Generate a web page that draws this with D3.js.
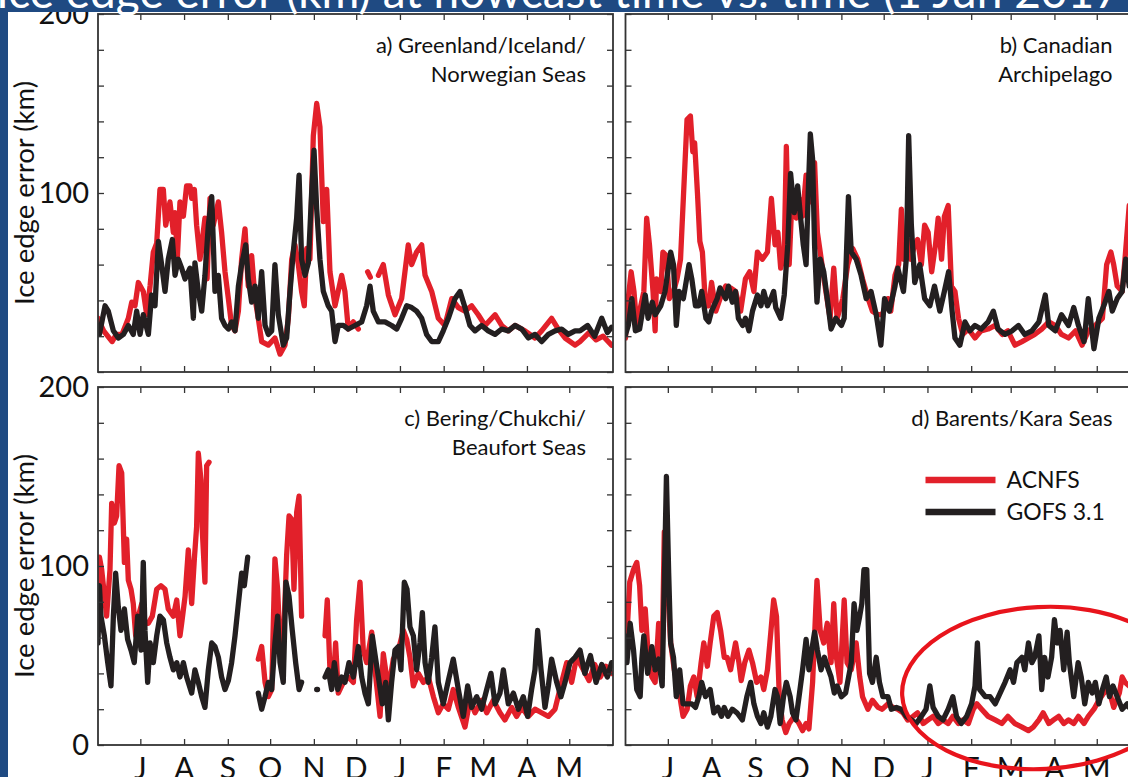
<!DOCTYPE html>
<html><head><meta charset="utf-8">
<script src="https://cdn.jsdelivr.net/npm/d3@7"></script>
<style>html,body{margin:0;padding:0;background:#fff;overflow:hidden}</style>
</head><body><svg id="c" width="1128" height="777"></svg>
<script>
// ---------- data ----------
const monthLabels = ["J","A","S","O","N","D","J","F","M","A","M"];
const yTickLabelsTop = [100, 200];
const yTickLabelsBottom = [0, 100, 200];
const seriesNames = ["ACNFS", "GOFS 3.1"];
const panelTitles = [
  ["a) Greenland/Iceland/", "Norwegian Seas"],
  ["b) Canadian", "Archipelago"],
  ["c) Bering/Chukchi/", "Beaufort Seas"],
  ["d) Barents/Kara Seas"]
];
const yLabel = "Ice edge error (km)";
const titleText = "Ice edge error (km) at nowcast time vs. time (1 Jun 2017 – 31 May 2018)";

// [day since 1 Jun, km]  (null = no data)
const ginAcnfs = [[0,30],[1,28],[4,23],[10,17],[13,21],[17,21],[21.5,30],[23.9,39],[26.2,37],[28.6,50],[32.1,45],[34.5,32],[36.9,48],[39.2,67],[41.6,72],[43.9,102],[46.3,102],[48,82],[51,95],[53.4,78],[54.6,89],[56.2,63],[58.1,95],[60.5,87],[62.8,104],[65.2,104],[66.4,97],[68.3,102],[69.9,82],[72.3,63],[75.8,86],[77.3,52],[79.4,97],[81.7,82],[85.3,95],[87.6,78],[90,56],[92.4,41],[94.7,26],[97.1,23],[99.5,34],[101.8,63],[104.2,80],[106.5,48],[108.9,65],[111.3,41],[113.6,30],[116,17],[120.7,15],[125.4,19],[129,10],[132.5,15],[134.9,30],[137.3,63],[139.6,71],[142,60],[144.3,45],[146.2,37],[147.9,69],[150.2,63],[152.6,132],[155,150],[157.3,137],[159.7,84],[162.1,102],[164.4,56],[168,37],[172.7,54],[175,45],[177.4,24],[181,28],[184.5,24],[186,null],[191.1,56],[193,53],[194,null],[198.7,54],[202.2,60],[205.8,43],[210.5,32],[215.2,41],[219.9,71],[222.3,60],[225.8,67],[229.4,71],[231.8,54],[236.5,45],[241.2,30],[245.9,26],[250.7,41],[255.4,36],[260.1,34],[264.8,37],[269.5,32],[274.3,26],[281.4,32],[286.1,26],[290.8,23],[295.5,26],[302.6,23],[309.7,19],[314.4,23],[321.5,30],[326.2,24],[331,19],[338.1,15],[341.6,17],[348,22],[353,18],[358,20],[364,15]];
const ginGofs = [[0,26],[1,21],[5,37],[7.3,34],[10.9,23],[14.4,19],[18,21],[21.5,26],[25,21],[27.4,34],[29.8,21],[32.1,32],[35.7,21],[38,43],[40.4,37],[42.8,73],[45.1,60],[47.5,45],[49.8,63],[52.7,74],[54.6,54],[56.9,63],[59.3,58],[61.7,52],[65.2,58],[67.6,30],[68.7,61],[71.1,45],[73.5,34],[75.8,54],[78.2,82],[80.6,98],[82.9,45],[85.3,54],[87.6,30],[90,26],[92.4,24],[94.7,28],[97.1,23],[99.5,48],[101.8,60],[104.7,71],[106.5,52],[108.9,39],[111.3,48],[113.6,30],[116,56],[118.4,26],[120.7,21],[123.1,23],[125.4,60],[127.8,32],[131.3,15],[133.7,19],[136.1,45],[138.4,67],[140.8,86],[142.5,110],[144.3,63],[146.7,54],[149.1,61],[151.4,100],[153.1,124],[155,91],[157.3,63],[159.7,45],[163.2,37],[165.6,34],[168,17],[170.3,26],[173.9,26],[177.4,24],[182.1,26],[186.9,28],[190.4,37],[192.8,48],[195.1,34],[198.7,28],[203.4,28],[208.1,26],[211.7,24],[215.2,30],[218.8,37],[222.3,36],[225.8,34],[229.4,30],[232.9,21],[236.5,17],[241.2,17],[244.7,23],[248.3,30],[253,41],[256.6,45],[260.1,36],[263.6,26],[267.2,23],[271.9,26],[276.6,23],[281.4,21],[286.1,24],[290.8,23],[295.5,26],[300.3,24],[305,19],[309.7,21],[314.4,17],[319.2,21],[323.9,23],[328.6,24],[333.3,21],[338.1,23],[341.6,23],[347,26],[352,20],[357,30],[361,22],[364,25]];

const canAcnfs = [[0,19],[1,34],[4,56],[6,45],[8,26],[10,34],[13,45],[15,86],[17,71],[19.5,45],[21,23],[22,52],[25,45],[26.5,67],[29,65],[31,41],[34,45],[36.5,52],[39,63],[41,97],[43.6,141],[46,143],[47.7,123],[49,128],[51,100],[52.7,73],[54.5,67],[56.7,37],[59,37],[61,50],[64,34],[67,41],[71,48],[74.5,47],[78,45],[81.6,34],[85,52],[88,56],[91,45],[93.5,67],[97,63],[100.6,67],[103.4,97],[106,71],[108,78],[110,58],[112.5,67],[114,126],[116,60],[118,97],[121,86],[123,97],[125.5,87],[128,110],[131,95],[134,117],[136,78],[140,56],[142,45],[145,30],[147.6,58],[150,30],[154,41],[157.5,60],[161,69],[164.6,63],[168,52],[172,41],[175,34],[179,32],[182,32],[186,41],[188,34],[191,54],[193.6,60],[195.5,91],[197,63],[200,74],[202,63],[205,71],[207,74],[209.7,60],[212,82],[214.5,78],[217,56],[219.7,71],[221.6,86],[224,63],[226,87],[228.7,93],[231,48],[233.5,45],[236,30],[239,21],[243,24],[247.7,19],[252,23],[257,24],[262,26],[267,21],[271,23],[276,15],[281,17],[285.6,19],[290,21],[295,24],[300,28],[304.6,26],[309,21],[314,19],[319,23],[323.6,15],[328,23],[333,26],[338,30],[341,60],[344,67],[346,60],[348.5,48],[352,45],[354,63],[357,93],[361,80],[364,70]];
const canGofs = [[0,21],[2,26],[4.5,41],[7,23],[10,24],[14,43],[16,30],[19,39],[21,32],[25,37],[28,45],[32,67],[34,60],[36,26],[38,45],[41,41],[45,60],[47,52],[49.6,37],[52,37],[54,45],[57,30],[59,28],[61,34],[65,41],[67,47],[71,41],[73,48],[75.7,39],[78,45],[80,30],[83,26],[85,30],[87.5,23],[90,34],[93.5,43],[96,37],[98,45],[100.6,37],[103,41],[105,45],[106.5,36],[110,30],[112.5,43],[115,71],[117,111],[119.6,89],[122,104],[124,87],[126,71],[128,60],[129.5,100],[131,133],[132.6,119],[134,71],[135.7,39],[138,63],[140.5,56],[143,41],[145.7,24],[149,30],[153,26],[155,30],[158,98],[160,67],[163.5,63],[167,54],[170.6,41],[174,45],[177.7,32],[181,15],[183.6,41],[187,34],[191,48],[193,58],[197,45],[199,63],[200.7,132],[202.6,82],[205,50],[208.5,60],[212,41],[215.7,37],[219,48],[222.8,34],[226,45],[229,56],[231.5,34],[233.5,19],[237,15],[240.6,28],[244,23],[247.7,26],[252,24],[257,28],[260.7,34],[264,24],[269,21],[274,23],[278.5,26],[283,21],[288,23],[293,28],[297.5,43],[300,26],[304.6,23],[309,32],[314,26],[317.7,36],[321,26],[325,17],[328,41],[332,13],[335.5,30],[339,37],[342.6,45],[345,34],[348.5,41],[352,45],[354.5,63],[357,48],[361,50],[364,45]];

const bcbAcnfs = [[0,68],[1,105],[2.6,98],[6.1,72],[8.5,98],[9.7,135],[11.6,124],[13.2,128],[14.9,156],[16.8,152],[18.7,102],[20.3,115],[21.5,92],[23.4,87],[25,79],[26.7,61],[28.6,72],[31,79],[33.3,68],[35.7,68],[38.5,72],[41.6,87],[44.6,89],[47.5,87],[49.8,76],[53.4,72],[55.8,81],[58.1,61],[59.3,68],[61.7,83],[64,109],[66.4,79],[68.3,104],[69.9,122],[71.1,163],[73,148],[73.9,120],[75.8,91],[77,156],[78.7,158],[80,null],[113.6,48],[116,55],[118.4,35],[120.7,27],[123.1,31],[125.4,104],[127.3,87],[129,57],[130.9,46],[133.7,106],[135.4,128],[137.3,126],[138.9,87],[140.8,130],[142.5,139],[144.3,72],[145,null],[160.9,61],[162.5,81],[164.4,42],[166.8,35],[168.4,57],[170.3,29],[173.9,35],[177.4,38],[181,35],[183.3,70],[185.7,91],[188,53],[190.4,46],[194,63],[196.3,42],[199.9,16],[202.2,51],[205.8,31],[209.3,48],[212.9,53],[216.4,64],[218.8,59],[221.1,49],[223.5,33],[227,40],[230.6,35],[234.1,38],[237.7,27],[241.2,18],[244.7,23],[248.3,20],[251.8,31],[255.4,21],[260.1,10],[263.6,25],[267.2,18],[271.9,25],[275.5,18],[280.2,25],[284.9,18],[288.4,14],[293.2,21],[296.7,16],[300.3,21],[305,16],[309.7,20],[314.4,18],[319.2,16],[323.9,20],[328.6,35],[332.2,46],[335.7,35],[339.2,49],[344,42],[348,36],[352,45],[356,38],[360,44],[364,40]];
const bcbGofs = [[0,57],[1,89],[2.1,72],[4.5,61],[6.9,46],[9.2,33],[10.9,72],[12.5,96],[14.4,77],[16.3,64],[18.7,76],[21,59],[23.4,53],[25.7,46],[28.1,72],[30.5,53],[32.1,102],[33.3,64],[35.2,35],[36.9,57],[39.2,46],[41.6,61],[43.9,72],[46.3,70],[48.7,57],[51,49],[53.4,42],[55.8,46],[58.1,38],[60.5,46],[62.8,38],[66.4,29],[68.7,42],[71.1,35],[73.5,27],[75.8,21],[78.2,42],[80.6,57],[82.9,55],[85.3,49],[87.6,38],[90,31],[92.4,36],[94.7,46],[97.1,61],[99.5,79],[101.8,96],[103.7,89],[106.1,105],[108,null],[113.6,29],[116,20],[118.4,27],[120.7,35],[123.1,31],[125.4,57],[127.3,72],[129,46],[131.3,35],[133.2,91],[135.4,83],[137.7,64],[140.1,46],[142.5,31],[144.3,35],[146,null],[155,31],[155.6,31],[156,null],[160.9,38],[163.2,42],[165.6,31],[167.5,46],[169.9,31],[172.7,38],[175,35],[177.9,46],[181,38],[184.5,55],[186.9,38],[189.2,29],[191.6,23],[194.4,61],[196.8,48],[199.1,36],[201.5,23],[203.9,35],[205.8,14],[208.1,35],[210.5,53],[212.9,55],[214.7,42],[217.1,91],[219,87],[221.1,66],[223.5,61],[225.8,42],[228.2,57],[229.9,74],[231.8,46],[234.1,35],[236.5,49],[238.8,66],[241.2,35],[244.7,23],[248.3,36],[251.8,48],[255.4,31],[258.9,16],[262,33],[264.8,21],[268.4,27],[271.9,20],[275.5,31],[278.5,40],[281.4,23],[284.9,29],[287.3,42],[290.8,23],[294.4,29],[297.9,20],[301.4,27],[304.5,16],[307.3,31],[309.7,42],[311.6,64],[314,42],[316.8,21],[319.2,33],[321.5,48],[325.1,35],[328.1,27],[331,35],[334.5,46],[338.1,49],[341.6,53],[345,40],[349,50],[353,35],[357,45],[361,38],[364,46]];

const bkAcnfs = [[0,66],[1,61],[3,91],[5.7,98],[8,102],[10,89],[11.6,64],[14,76],[16.4,46],[18.7,38],[21,35],[23.5,68],[26,49],[27.5,119],[29.4,96],[32,57],[34.6,42],[37.7,31],[40.8,16],[43.7,20],[46,33],[48.4,38],[50.8,27],[53.6,46],[55.5,57],[58,44],[60,57],[62.6,72],[65,74],[67.4,64],[70,49],[72,49],[74.5,42],[78,57],[80.4,46],[82,36],[84.5,46],[87.5,53],[90,46],[93,35],[96,38],[98,31],[100.6,42],[103,63],[105,81],[107,72],[109,27],[111,14],[113.6,7],[116,12],[119.6,16],[123,12],[125.5,8],[128,12],[130,9],[132.6,35],[135.7,92],[138,64],[140.5,57],[143,68],[145.7,46],[147.6,79],[149.5,49],[152,35],[155,81],[157,46],[160,42],[163.5,57],[166,38],[168,27],[171.8,20],[175,25],[179,21],[182,20],[186,23],[189.6,21],[193,20],[196.7,18],[200,14],[203.8,16],[207,18],[211,12],[214.5,14],[218,16],[221.6,12],[225,14],[228.7,12],[232,16],[236,12],[239,14],[243,12],[246.5,20],[249,23],[252.4,20],[257,16],[262,14],[266.7,12],[271,16],[276,12],[281,10],[285.6,8],[289,10],[293,14],[296,18],[300,12],[303.4,14],[307,16],[310.6,12],[314,14],[317.7,12],[321,16],[325,12],[328,16],[332,20],[335.5,25],[339,29],[342.6,31],[346,21],[350,29],[352,38],[354,35],[357,33],[361,30],[364,32]];
const bkGofs = [[0,61],[1,46],[3.3,68],[5.7,53],[8,31],[10.4,27],[11.6,48],[13,61],[15.7,40],[18.7,55],[21,42],[23.5,48],[26,33],[27.5,91],[29,150],[30.6,96],[32,57],[34,49],[36,27],[38.4,42],[40.8,23],[43.6,23],[47,23],[49.6,21],[52,27],[54,35],[56.7,27],[60,31],[62.6,18],[65.5,21],[68,16],[70,21],[72.6,16],[75.7,20],[79,18],[82.8,14],[86,27],[88.7,35],[91,23],[93.5,16],[96,12],[98,18],[100.6,10],[103,16],[106,31],[107.7,27],[109.6,12],[112,27],[114,35],[116.7,27],[118.4,18],[120.8,14],[123,27],[125.5,42],[128,59],[130,42],[132,53],[134,63],[136,53],[138.6,42],[141,49],[143,44],[145.7,38],[148,29],[150,33],[153,27],[156,29],[160,46],[162,79],[164,64],[166,72],[167.5,79],[169,98],[171,98],[173,40],[175,35],[177.7,49],[180,35],[182.4,27],[186,27],[188.4,20],[192,21],[195.5,20],[199,16],[202.6,14],[206,12],[209.7,16],[213,20],[215.7,33],[218,21],[221.6,16],[225,14],[228.7,20],[232,27],[234.6,16],[238,12],[241.8,16],[245.3,23],[247.7,33],[249.4,57],[251,31],[255,27],[258.4,27],[262,23],[265.5,29],[269,35],[272.6,42],[275,35],[277.4,46],[281,49],[283,42],[285.6,57],[288,46],[290,49],[293,61],[295,31],[297,49],[299.4,38],[302,49],[304,70],[306,57],[308,64],[310.6,42],[313,63],[314.6,46],[317.7,27],[320.8,46],[323,38],[325.5,23],[328,35],[330.8,29],[333,35],[335.5,23],[338,31],[340.7,38],[343,27],[345.5,33],[348.5,27],[352,20],[355.6,23],[357,21],[361,22],[364,20]];

// ---------- drawing ----------
const RED = "#e2202a", BLACK = "#231f20", BLUE = "#1f4a82";
const FONT = "Lato, 'Open Sans', sans-serif";
const svg = d3.select("#c");
const W = 515, H = 358;
const start = new Date(Date.UTC(2017, 5, 1));
const end = new Date(Date.UTC(2018, 5, 1));
const dateOf = d => new Date(start.getTime() + d * 864e5);
const monthTicks = d3.utcMonth.range(new Date(Date.UTC(2017, 6, 1)), end);

svg.append("rect").attr("width", 1128).attr("height", 777).attr("fill", "#fff");

const panels = [
  {x0: 98, y0: 14, series: [ginAcnfs, ginGofs], title: panelTitles[0], ylabels: yTickLabelsTop, yaxisTitle: true, months: false},
  {x0: 625.5, y0: 14, series: [canAcnfs, canGofs], title: panelTitles[1], ylabels: [], yaxisTitle: false, months: false},
  {x0: 98, y0: 387, series: [bcbAcnfs, bcbGofs], title: panelTitles[2], ylabels: yTickLabelsBottom, yaxisTitle: true, months: true},
  {x0: 625.5, y0: 387, series: [bkAcnfs, bkGofs], title: panelTitles[3], ylabels: [], yaxisTitle: false, months: true, legend: true}
];

panels.forEach((p, i) => {
  const x = d3.scaleUtc().domain([start, end]).range([0, W]);
  const y = d3.scaleLinear().domain([0, 200]).range([H, 0]);
  const g = svg.append("g").attr("transform", `translate(${p.x0},${p.y0})`);
  const cid = "clip" + i;
  g.append("clipPath").attr("id", cid).append("rect").attr("width", W).attr("height", H);

  // lines
  const line = d3.line().defined(d => d[1] != null)
    .x(d => x(dateOf(d[0]))).y(d => y(d[1]));
  const cols = [RED, BLACK];
  p.series.forEach((s, k) => {
    g.append("path").datum(s).attr("clip-path", `url(#${cid})`)
      .attr("d", line).attr("fill", "none").attr("stroke", cols[k])
      .attr("stroke-width", 5.3).attr("stroke-linejoin", "round").attr("stroke-linecap", "round");
  });

  // axes with inward ticks
  const yt = d3.range(0, 201, 20);
  const styleAxis = a => { a.select(".domain").remove(); a.selectAll("line").attr("stroke", "#333").attr("stroke-width", 1.3); a.selectAll("text").remove(); };
  g.append("g").call(d3.axisLeft(y).tickValues(yt).tickSize(-6)).call(styleAxis);
  g.append("g").attr("transform", `translate(${W},0)`).call(d3.axisRight(y).tickValues(yt).tickSize(-6)).call(styleAxis);
  g.append("g").call(d3.axisTop(x).tickValues(monthTicks).tickSize(-6)).call(styleAxis);
  g.append("g").attr("transform", `translate(0,${H})`).call(d3.axisBottom(x).tickValues(monthTicks).tickSize(-6)).call(styleAxis);
  g.append("rect").attr("width", W).attr("height", H).attr("fill", "none").attr("stroke", "#333").attr("stroke-width", 1.8);

  // y labels
  p.ylabels.forEach(v => {
    g.append("text").attr("x", -9).attr("y", y(v)).attr("dy", "0.36em")
      .attr("text-anchor", "end").attr("font-family", FONT).attr("font-size", 29).attr("fill", "#111").text(v);
  });
  if (p.yaxisTitle) {
    g.append("text").attr("transform", `translate(${24 - p.x0},${H / 2}) rotate(-90)`)
      .attr("text-anchor", "middle").attr("dy", "0.35em")
      .attr("font-family", FONT).attr("font-size", 27.5).attr("fill", "#111").text(yLabel);
  }
  if (p.months) {
    monthTicks.forEach((m, j) => {
      g.append("text").attr("x", x(m)).attr("y", H + 34).attr("text-anchor", "middle")
        .attr("font-family", FONT).attr("font-size", 30).attr("fill", "#111").text(monthLabels[j]);
    });
  }
  // title
  const tx = (i % 2 === 0) ? 488 : 487;
  p.title.forEach((t, j) => {
    g.append("text").attr("x", tx).attr("y", 39 + j * 29).attr("text-anchor", "end")
      .attr("font-family", FONT).attr("font-size", 22).attr("fill", "#111").text(t);
  });
  if (p.legend) {
    seriesNames.forEach((n, k) => {
      const ly = 93 + k * 32;
      g.append("line").attr("x1", 300).attr("x2", 370).attr("y1", ly).attr("y2", ly)
        .attr("stroke", cols[k]).attr("stroke-width", 6.5);
      g.append("text").attr("x", 381).attr("y", ly).attr("dy", "0.36em")
        .attr("font-family", FONT).attr("font-size", 23).attr("fill", "#111").text(n);
    });
  }
});

// annotation ellipse
svg.append("ellipse").attr("cx", 1042).attr("cy", 688).attr("rx", 140).attr("ry", 81)
  .attr("transform", "rotate(-3 1042 688)")
  .attr("fill", "none").attr("stroke", "#e8141c").attr("stroke-width", 4.2);

// slide frame (blue band on top and left)
svg.append("rect").attr("x", 0).attr("y", 0).attr("width", 1128).attr("height", 12).attr("fill", BLUE);
svg.append("rect").attr("x", 0).attr("y", 0).attr("width", 8).attr("height", 777).attr("fill", BLUE);
svg.append("text").attr("x", -4).attr("y", 8).attr("font-family", FONT).attr("font-size", 46)
  .attr("fill", "#fff").text(titleText);
</script></body></html>
